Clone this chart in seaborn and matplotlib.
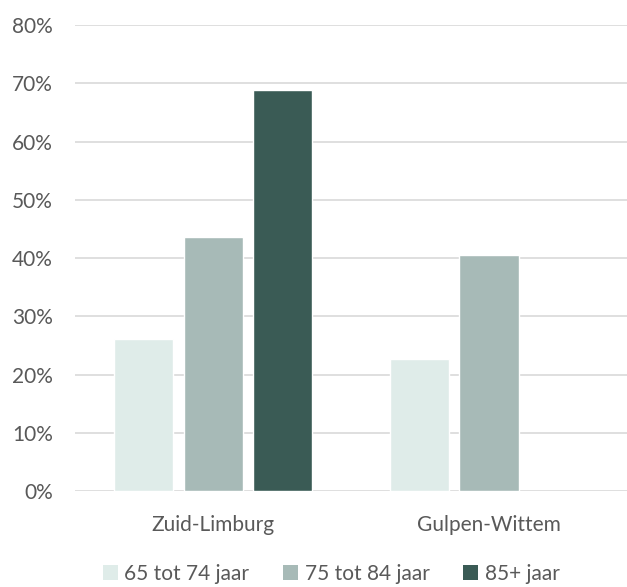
import matplotlib
matplotlib.use("Agg")
import matplotlib.pyplot as plt
import seaborn as sns
import pandas as pd
import numpy as np
from matplotlib.ticker import PercentFormatter
from matplotlib.patches import Patch

# data
regions = ["Zuid-Limburg", "Gulpen-Wittem"]
age_groups = ["65 tot 74 jaar", "75 tot 84 jaar", "85+ jaar"]
share_65_74 = [0.261, 0.226]
share_75_84 = [0.437, 0.406]
share_85_plus = [0.689, np.nan]

colors = ["#DFECE9", "#A7BAB7", "#3A5B55"]
text_color = "#595959"

df = pd.DataFrame({
    "region": regions * 3,
    "age": [age_groups[0]] * 2 + [age_groups[1]] * 2 + [age_groups[2]] * 2,
    "share": share_65_74 + share_75_84 + share_85_plus,
})

sns.set_style("white")
plt.rcParams["font.family"] = ["Lato", "DejaVu Sans"]

fig = plt.figure(figsize=(6.27, 5.87), dpi=100)
ax = fig.add_axes([0.12, 0.1635, 0.88, 0.7935])

sns.barplot(data=df, x="region", y="share", hue="age", hue_order=age_groups,
            palette=colors, width=0.757, gap=0.15, ax=ax, legend=False,
            saturation=1, zorder=3)

ax.set_ylim(0, 0.8)
ax.set_xlim(-0.5, 1.5)
ax.set_yticks(np.arange(0, 0.81, 0.1))
ax.yaxis.set_major_formatter(PercentFormatter(1.0, decimals=0))
ax.grid(axis="y", color="#D9D9D9", linewidth=1.2, zorder=0)
ax.set_axisbelow(True)
for s in ax.spines.values():
    s.set_visible(False)
ax.set_xlabel("")
ax.set_ylabel("")
ax.tick_params(axis="y", length=0, pad=16, labelsize=15, labelcolor=text_color)
ax.tick_params(axis="x", length=0, pad=17, labelsize=15, labelcolor=text_color)

handles = [Patch(facecolor=c, edgecolor="none") for c in colors]
fig.legend(handles, age_groups, loc="lower center", bbox_to_anchor=(0.528, -0.026),
           ncol=3, frameon=False, fontsize=15, labelcolor=text_color,
           handlelength=0.75, handleheight=0.75, handletextpad=0.3, columnspacing=1.6)

fig.savefig("out.png", dpi=100)
